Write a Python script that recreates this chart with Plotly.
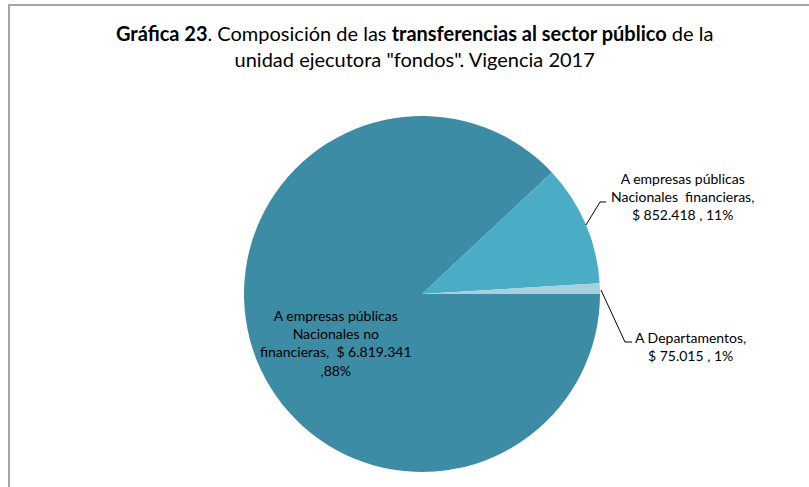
import plotly.graph_objects as go

W, H = 809, 487

categories = [
    "A empresas públicas Nacionales no financieras",
    "A empresas públicas Nacionales financieras",
    "A Departamentos",
]
values = [6819341, 852418, 75015]
value_labels = ["$ 6.819.341", "$ 852.418", "$ 75.015"]
pct_labels = ["88%", "11%", "1%"]
colors = ["#3D8CA5", "#4BACC6", "#A8CFDC"]

FONT = "Lato, Open Sans, sans-serif"


def px(x):
    return x / W


def py(y):
    return 1 - y / H


fig = go.Figure(go.Pie(
    labels=categories,
    values=values,
    sort=False,
    direction="clockwise",
    rotation=90,
    marker=dict(colors=colors, line=dict(width=0)),
    textinfo="none",
    hoverinfo="label+value+percent",
    domain=dict(x=[px(244), px(600)], y=[py(472), py(116)]),
    showlegend=False,
))

title = ("<b>Gráfica 23</b>. Composición de las <b>transferencias al sector público</b> de la"
         "<br>unidad ejecutora \"fondos\". Vigencia 2017")

annotations = [
    dict(text=title, x=px(415), y=py(46), xref="paper", yref="paper",
         showarrow=False, font=dict(size=20, color="#000000", family=FONT),
         align="center", xanchor="center", yanchor="middle"),
    dict(text="A empresas públicas<br>Nacionales no<br>financieras,  " + value_labels[0] + "<br>," + pct_labels[0],
         x=px(336), y=py(343), xref="paper", yref="paper", showarrow=False,
         font=dict(size=14, color="#000000", family=FONT), align="center",
         xanchor="center", yanchor="middle"),
    dict(text="A empresas públicas<br>Nacionales  financieras,<br>" + value_labels[1] + " , " + pct_labels[1],
         x=px(682), y=py(197), xref="paper", yref="paper", showarrow=False,
         font=dict(size=14, color="#000000", family=FONT), align="center",
         xanchor="center", yanchor="middle"),
    dict(text="A Departamentos,<br>" + value_labels[2] + " , " + pct_labels[2],
         x=px(690), y=py(346), xref="paper", yref="paper", showarrow=False,
         font=dict(size=14, color="#000000", family=FONT), align="center",
         xanchor="center", yanchor="middle"),
]


def path(points):
    return "M " + " L ".join(f"{px(x):.5f},{py(y):.5f}" for x, y in points)


shapes = [
    # chart border (top and left visible)
    dict(type="path", xref="paper", yref="paper",
         path=path([(9, 487), (9, 5), (809, 5)]),
         line=dict(color="#A6A6A6", width=2)),
    # leader lines
    dict(type="path", xref="paper", yref="paper",
         path=path([(586, 225), (600, 202), (606, 202)]),
         line=dict(color="#000000", width=1)),
    dict(type="path", xref="paper", yref="paper",
         path=path([(601, 290), (625, 342), (632, 342)]),
         line=dict(color="#000000", width=1)),
]

fig.update_layout(
    width=W, height=H,
    margin=dict(l=0, r=0, t=0, b=0),
    paper_bgcolor="#FFFFFF",
    plot_bgcolor="#FFFFFF",
    annotations=annotations,
    shapes=shapes,
)

fig.write_html("out.html",
               config={"displayModeBar": False},
               post_script="document.body.style.margin='0';document.body.style.overflow='hidden';")
